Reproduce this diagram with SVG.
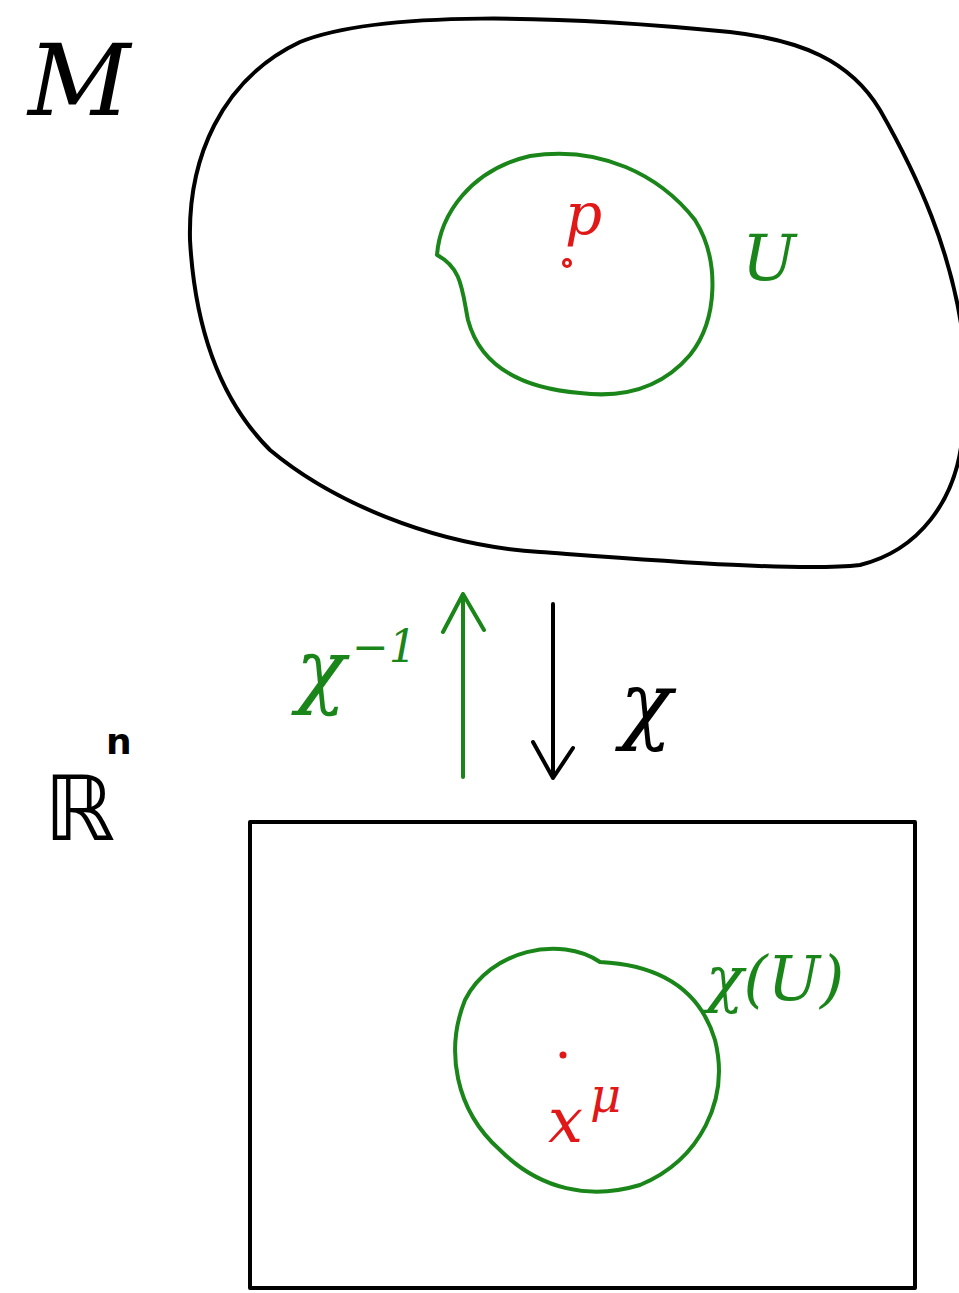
<svg xmlns="http://www.w3.org/2000/svg" width="959" height="1293" viewBox="0 0 959 1293">
<style>
.k{fill:none;stroke:#000;stroke-width:4;stroke-linecap:round;stroke-linejoin:round}
.g{fill:none;stroke:#1a861a;stroke-width:4;stroke-linecap:round;stroke-linejoin:round}
.r{fill:none;stroke:#e01818;stroke-width:3}
.t{font-family:"DejaVu Serif","Liberation Serif",serif;font-style:italic}
</style>
<rect width="959" height="1293" fill="#fff"/>
<g id="manifold">
<path class="k" d="M 300,42 C 380,10 560,15 730,32 C 800,40 850,60 880,110 C 920,180 950,250 962,330 L 962,440 C 955,500 920,550 860,565 C 800,572 650,560 540,552 C 430,545 330,500 270,450 C 220,400 195,330 190,240 C 188,160 220,80 300,42 Z"/>
<text class="t" x="28" y="115" font-size="100" fill="#000">M</text>
</g>
<g id="U">
<path class="g" d="M 437,255 C 440,215 470,170 530,156 C 600,145 660,175 695,220 C 720,260 718,320 690,355 C 660,390 620,398 580,393 C 520,388 480,365 468,320 C 462,290 462,268 437,255 Z"/>
<text class="t" x="742" y="280" font-size="64" fill="#1a861a">U</text>
</g>
<g id="p">
<circle class="r" cx="567" cy="263" r="3.5"/>
<text class="t" x="565" y="234" font-size="58" fill="#e01818">p</text>
</g>
<g id="connectors">
<path class="g" d="M 463,777 L 463,594 M 443,632 L 463,594 L 484,630"/>
<path class="k" d="M 553,604 L 553,778 M 533,742 L 553,778 L 573,748"/>
</g>
<g id="labels">
<text class="t" x="296" y="698" font-size="82" fill="#1a861a">χ</text>
<text class="t" x="352" y="662" font-size="44" fill="#1a861a">−1</text>
<text class="t" x="620" y="733" font-size="86" fill="#000">χ</text>
<text x="44" y="840" font-family="DejaVu Sans,sans-serif" font-size="90" fill="#000">ℝ</text>
<text x="106" y="754" font-family="DejaVu Sans,sans-serif" font-size="36" font-weight="bold" fill="#000">n</text>
</g>
<g id="Rn">
<rect class="k" x="250" y="822" width="665" height="466"/>
</g>
<g id="chiU">
<path class="g" d="M 600,962 C 560,935 490,950 465,1000 C 445,1050 455,1110 500,1150 C 540,1190 590,1200 640,1185 C 700,1160 730,1100 715,1040 C 700,990 660,965 600,962 Z"/>
<text class="t" x="706" y="1000" font-size="62" fill="#1a861a">χ(U)</text>
</g>
<g id="xmu">
<circle cx="563" cy="1055" r="3.5" fill="#e01818"/>
<text class="t" x="548" y="1142" font-size="62" fill="#e01818">x</text>
<text class="t" x="590" y="1112" font-size="48" fill="#e01818">μ</text>
</g>
</svg>
